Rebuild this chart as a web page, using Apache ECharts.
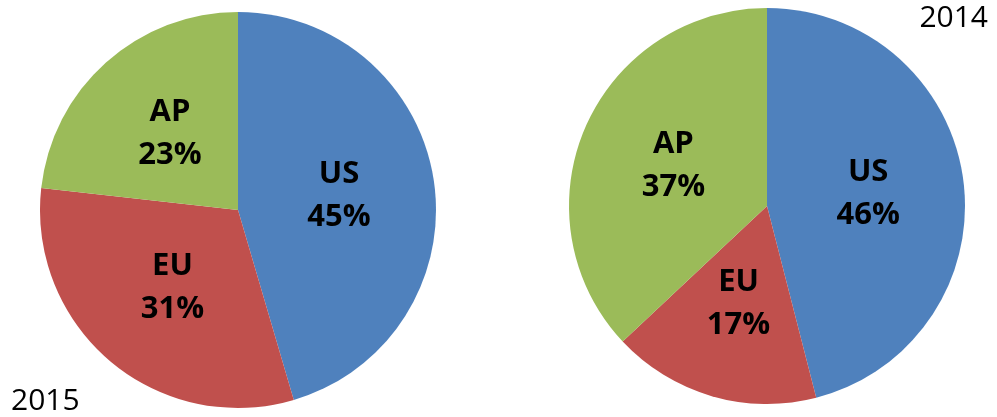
<!DOCTYPE html>
<html>
<head>
<meta charset="utf-8">
<script src="https://cdn.jsdelivr.net/npm/echarts@6/dist/echarts.min.js"></script>
<style>html,body{margin:0;padding:0;background:#fff}#c{width:997px;height:417px}</style>
</head>
<body>
<div id="c"></div>
<script>
const regions = ['US', 'EU', 'AP'];
const values2015 = [45, 31, 23];
const values2014 = [46, 17, 37];
const yearLabels = ['2015', '2014'];
const colors = ['#4F81BD', '#C0504D', '#9BBB59'];

function mkData(vals) {
  return regions.map((r, i) => ({ name: r, value: vals[i], itemStyle: { color: colors[i] } }));
}
const labelCfg = {
  show: true,
  position: 'inside',
  formatter: p => p.name + '\n' + p.value + '%',
  fontFamily: 'Open Sans',
  fontWeight: 'bold',
  fontSize: 31,
  lineHeight: 43,
  color: '#000'
};
const chart = echarts.init(document.getElementById('c'));
chart.setOption({
  backgroundColor: '#fff',
  animation: false,
  title: [
    { text: yearLabels[0], left: 6, bottom: -4, textStyle: { fontFamily: 'Open Sans', fontWeight: 'normal', fontSize: 30, color: '#000' } },
    { text: yearLabels[1], right: 4, top: -2, textStyle: { fontFamily: 'Open Sans', fontWeight: 'normal', fontSize: 30, color: '#000' } }
  ],
  series: [
    { type: 'pie', center: [238, 210], radius: 198, startAngle: 90, clockwise: true, label: labelCfg, labelLine: { show: false }, data: mkData(values2015), silent: true },
    { type: 'pie', center: [767, 206], radius: 198, startAngle: 90, clockwise: true, label: labelCfg, labelLine: { show: false }, data: mkData(values2014), silent: true }
  ]
});
</script>
</body>
</html>
